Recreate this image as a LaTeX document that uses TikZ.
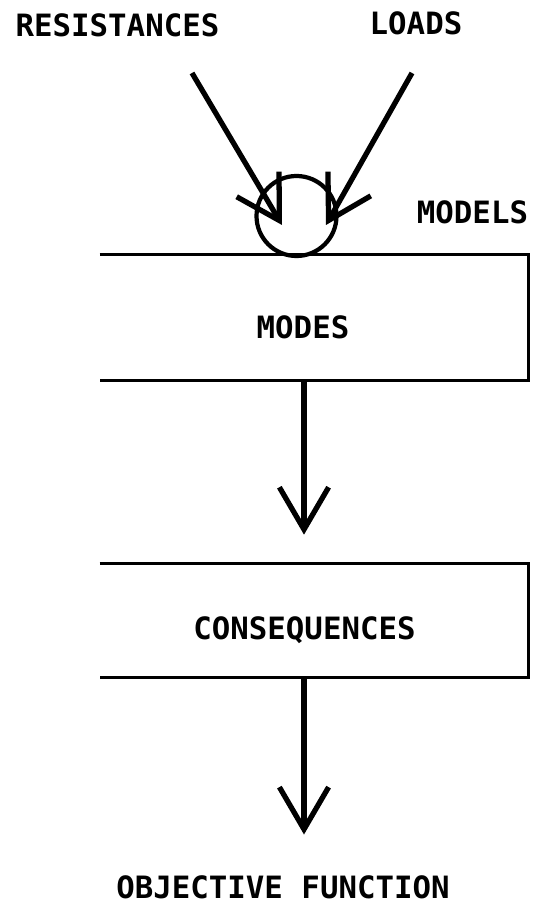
\documentclass[tikz,border=0pt]{standalone}
\usepackage{fontspec}
\setmonofont{DejaVu Sans Mono}
\usepackage{tikz}
\usetikzlibrary{arrows.meta, positioning}

\begin{document}
\begin{tikzpicture}
   \tikzstyle{lbl}=[inner sep=0pt, font=\ttfamily\bfseries\fontsize{17.5}{20}\selectfont]
   \tikzstyle{panel}=[inner sep=0pt, minimum width=8.56cm]
   \tikzstyle{edge}=[line width=2pt]
   \tikzstyle{flow}=[line width=3pt, -{Straight Barb[length=24pt,width=28pt]}]
   \useasboundingbox (0,0) rectangle (10.64,18.46);
   %% labels
\node[lbl] (res) at (2.35,17.96) {RESISTANCES};
\node[lbl] (loads) at (8.32,18.0) {LOADS};
\node[lbl] (mlabel) at (9.45,14.22) {MODELS};
\node[lbl] (objective) at (5.66,0.72) {OBJECTIVE FUNCTION};
%%nodes
\node[panel, minimum height=2.5cm] (modesbox) at (6.28,12.11) {};
\node[lbl] (modes) at (6.06,11.91) {MODES};
\node[panel, minimum height=2.26cm] (consbox) at (6.28,6.05) {};
\node[lbl] (cons) at (6.09,5.85) {CONSEQUENCES};
 \draw[edge] (modesbox.north west) -- (modesbox.north east) -- (modesbox.south east) -- (modesbox.south west);
 \draw[edge] (consbox.north west) -- (consbox.north east) -- (consbox.south east) -- (consbox.south west);
\node (models) at (5.93,14.14) [circle, draw, line width=2.4pt, minimum size=1.6cm, inner sep=0pt] {};
\coordinate (rin) at (3.84,17.0);
\coordinate (lin) at (8.24,17.0);
\coordinate (rtip) at ([xshift=-2.9mm,yshift=-1.8mm]models.center);
\coordinate (ltip) at ([xshift=5.9mm,yshift=-1.8mm]models.center);
\coordinate (down) at (6.08,0);
%% arrows
 \draw[flow] (rin) -- (rtip);
 \draw[flow] (lin) -- (ltip);
 \draw[flow, shorten >=0.58cm] (modesbox.south -| down) -- (consbox.north -| down);
 \draw[flow, shorten >=0.81cm] (consbox.south -| down) -- (objective.north -| down);
\end{tikzpicture}
\end{document}
